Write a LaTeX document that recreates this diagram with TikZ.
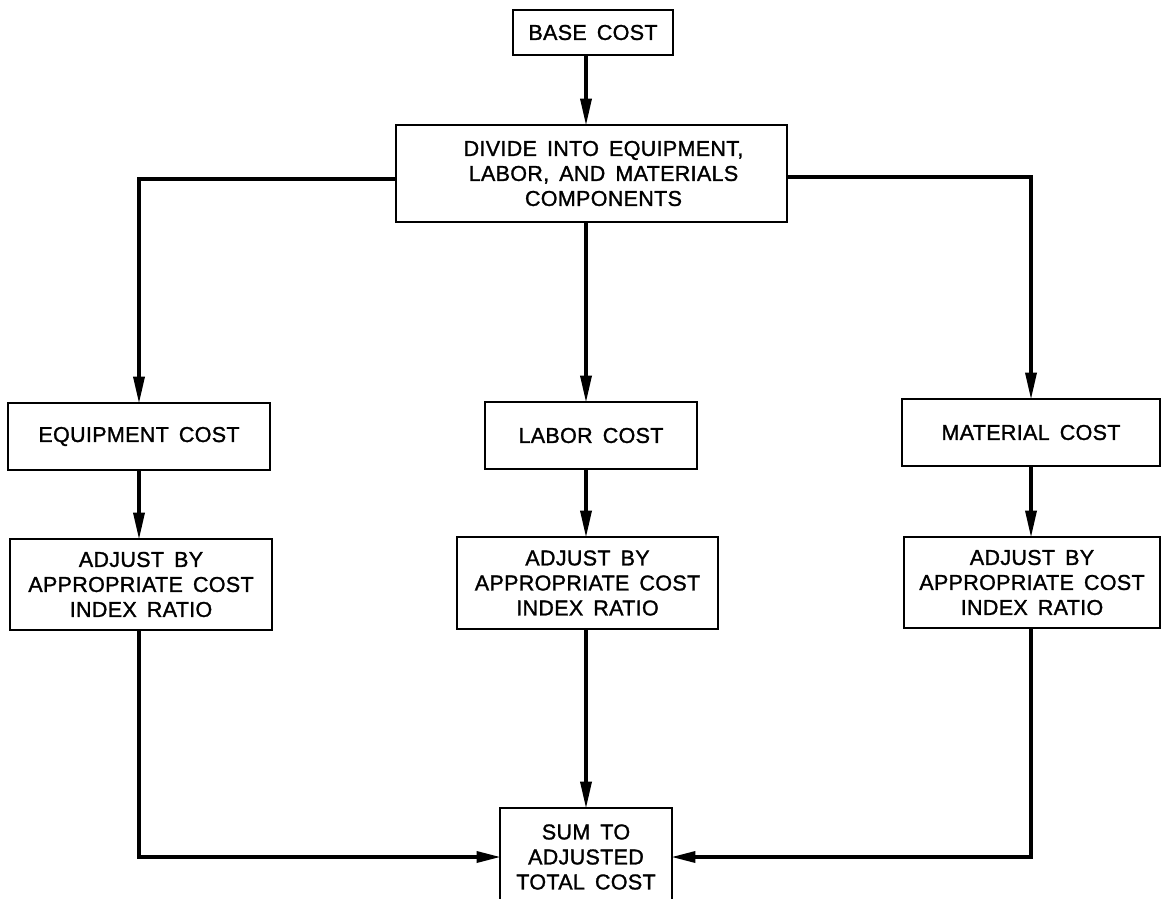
\documentclass[tikz,border=0pt]{standalone}
\usepackage{fontspec}
\setmainfont{Liberation Sans}[FakeBold=1.3,WordSpace=1.6,LetterSpace=1.5]
\usetikzlibrary{arrows.meta}
\begin{document}
\begin{tikzpicture}[x=1pt,y=-1pt,
  box/.style={draw, line width=2.8pt, inner sep=0pt, align=center,
    font=\fontsize{21.5}{25}\selectfont},
  conn/.style={line width=3.4pt, shorten >=-2pt, -{Triangle[length=27pt,width=11pt]}},
  connh/.style={line width=3.4pt, shorten >=-2pt, -{Triangle[length=24pt,width=11pt]}}]
\useasboundingbox (0,0) rectangle (1162,899);
\clip (0,0) rectangle (1162,899);
\fill[white] (0,0) rectangle (1162,899);
% columns
\coordinate (cL) at (139,0);
\coordinate (cC) at (586,0);
\coordinate (cR) at (1031,0);
% boxes
\node[box, minimum width=160pt, minimum height=45pt] (base) at (593,32.5) {BASE COST};
\node[box, minimum width=391pt, minimum height=97pt] (divide) at (591.5,173.5)
  {\hspace*{24pt}DIVIDE INTO EQUIPMENT,\\\hspace*{24pt}LABOR, AND MATERIALS\\\hspace*{24pt}COMPONENTS};
\node[box, minimum width=262pt, minimum height=67pt] (equip) at (139,436.5) {EQUIPMENT COST};
\node[box, minimum width=212pt, minimum height=67pt] (labor) at (591,435.5) {LABOR COST};
\node[box, minimum width=258pt, minimum height=67pt] (mat) at (1031,432.5) {MATERIAL COST};
\node[box, minimum width=262pt, minimum height=91pt] (adjE) at (141,584.5) {ADJUST BY\\APPROPRIATE COST\\INDEX RATIO};
\node[box, minimum width=261pt, minimum height=92pt] (adjL) at (587.5,583) {ADJUST BY\\APPROPRIATE COST\\INDEX RATIO};
\node[box, minimum width=256pt, minimum height=91pt] (adjM) at (1032,582.5) {ADJUST BY\\APPROPRIATE COST\\INDEX RATIO};
\node[box, minimum width=172pt, minimum height=98pt] (sum) at (586,857) {SUM TO\\ADJUSTED\\TOTAL COST};
% connectors
\draw[conn] (base.south -| cC) -- (divide.north -| cC);
\draw[conn] (divide.west |- 0,179) -| (equip.north -| cL);
\draw[conn] (divide.south -| cC) -- (labor.north -| cC);
\draw[conn] (divide.east |- 0,177) -| (mat.north -| cR);
\draw[conn] (equip.south -| cL) -- (adjE.north -| cL);
\draw[conn] (labor.south -| cC) -- (adjL.north -| cC);
\draw[conn] (mat.south -| cR) -- (adjM.north -| cR);
\draw[connh] (adjE.south -| cL) |- (sum.west);
\draw[conn] (adjL.south -| cC) -- (sum.north -| cC);
\draw[connh] (adjM.south -| cR) |- (sum.east);
\end{tikzpicture}
\end{document}
